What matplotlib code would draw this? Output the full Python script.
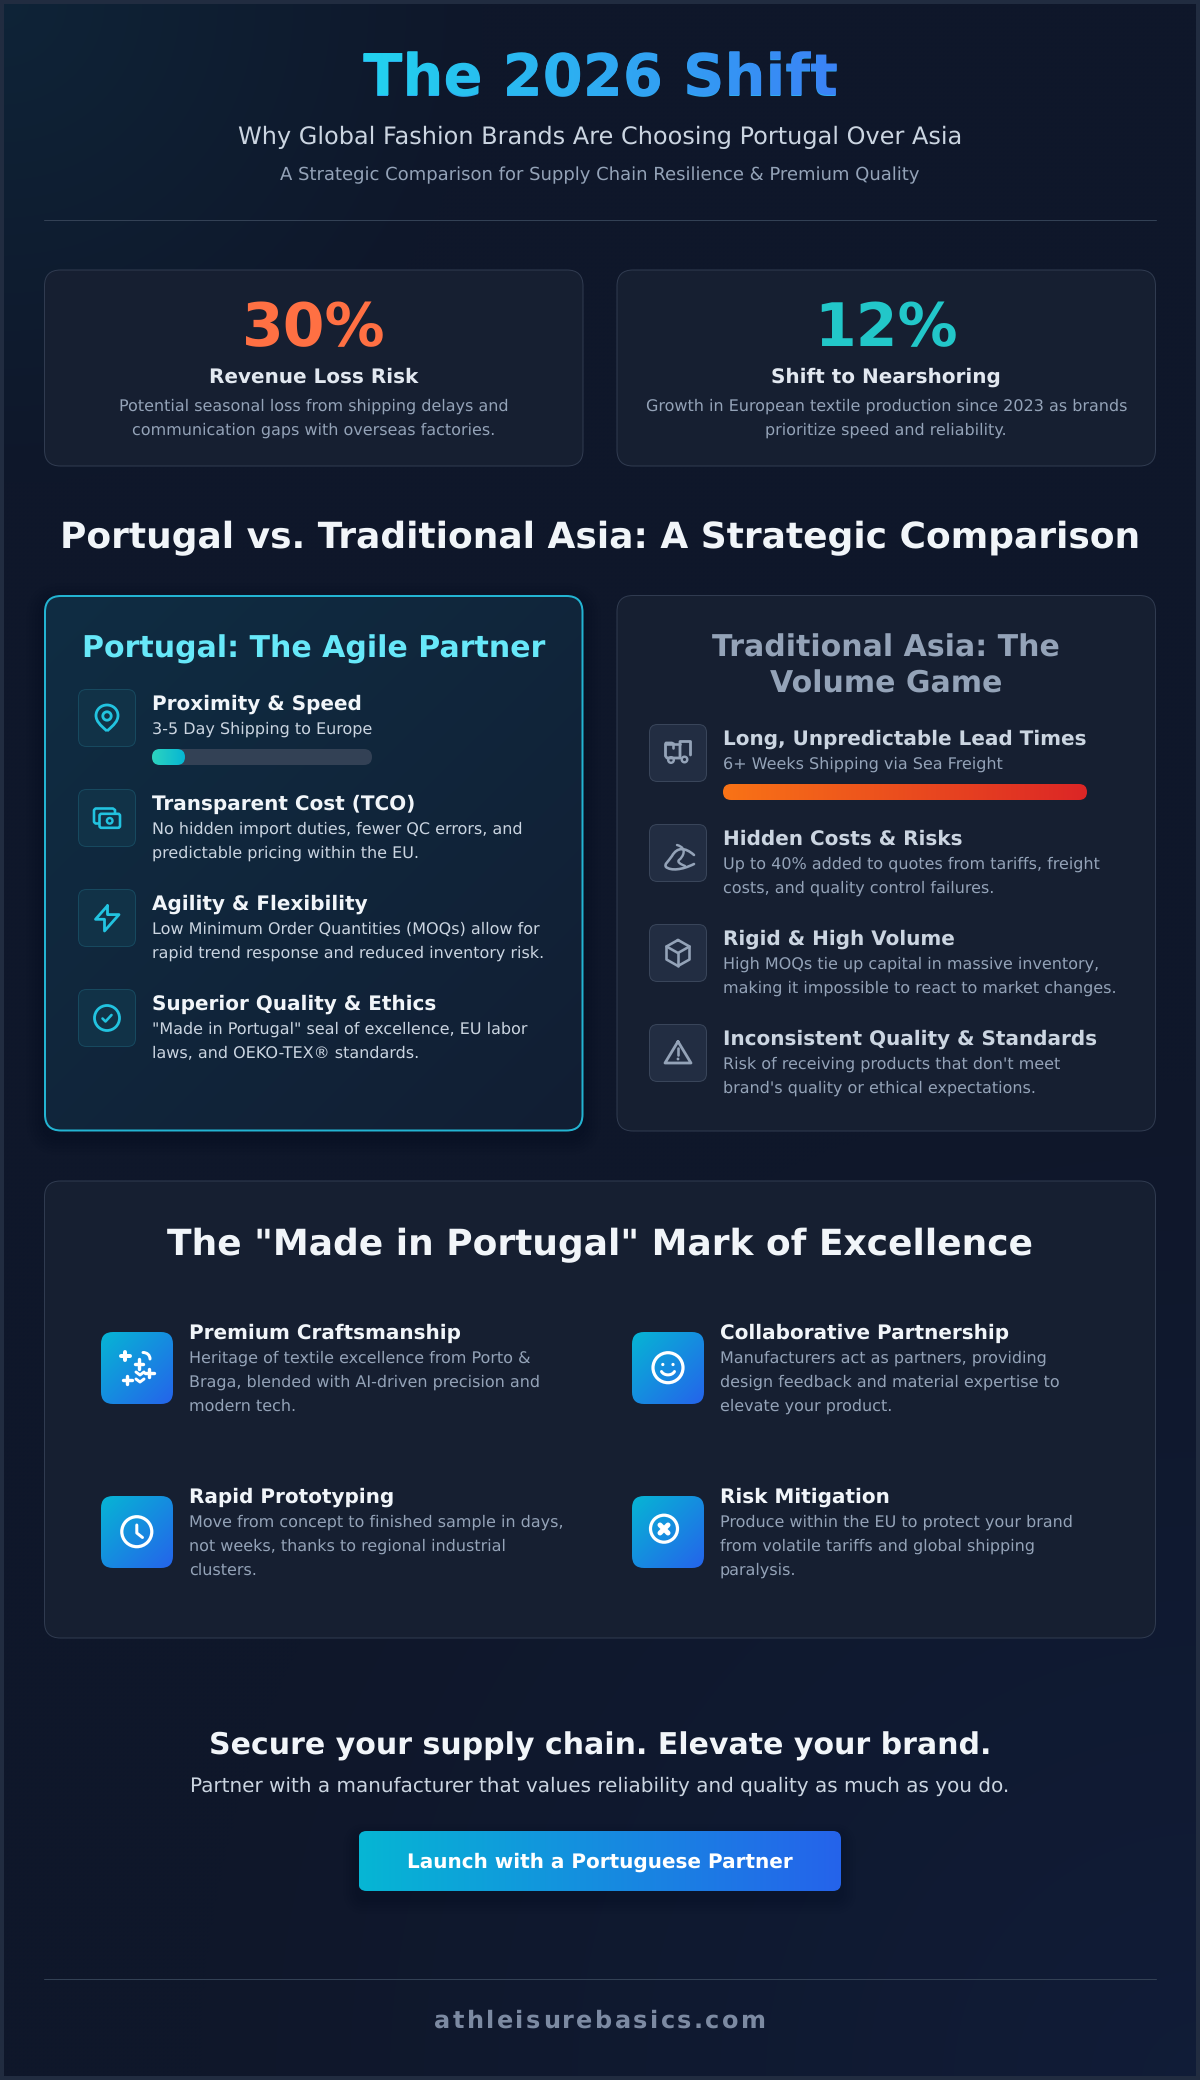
import numpy as np
import matplotlib
matplotlib.use("Agg")
import matplotlib.pyplot as plt
from matplotlib.colors import to_rgb
from matplotlib.font_manager import FontProperties
from matplotlib.patches import Circle, FancyBboxPatch, PathPatch, Rectangle
from matplotlib.path import Path
from matplotlib.textpath import TextPath
from matplotlib.transforms import Affine2D

W, H = 1200, 2080

# chart content
title = "The 2026 Shift"
subtitle = "Why Global Fashion Brands Are Choosing Portugal Over Asia"
tagline = "A Strategic Comparison for Supply Chain Resilience & Premium Quality"

stat_values = ["30%", "12%"]
stat_names = ["Revenue Loss Risk", "Shift to Nearshoring"]
stat_notes = [
    ["Potential seasonal loss from shipping delays and", "communication gaps with overseas factories."],
    ["Growth in European textile production since 2023 as brands", "prioritize speed and reliability."],
]

section_title = "Portugal vs. Traditional Asia: A Strategic Comparison"

portugal_title = ["Portugal: The Agile Partner"]
portugal_heads = ["Proximity & Speed", "Transparent Cost (TCO)", "Agility & Flexibility", "Superior Quality & Ethics"]
portugal_notes = [
    ["3-5 Day Shipping to Europe"],
    ["No hidden import duties, fewer QC errors, and", "predictable pricing within the EU."],
    ["Low Minimum Order Quantities (MOQs) allow for", "rapid trend response and reduced inventory risk."],
    ['"Made in Portugal" seal of excellence, EU labor', "laws, and OEKO-TEX® standards."],
]
portugal_bar = 0.15

asia_title = ["Traditional Asia: The", "Volume Game"]
asia_heads = ["Long, Unpredictable Lead Times", "Hidden Costs & Risks", "Rigid & High Volume", "Inconsistent Quality & Standards"]
asia_notes = [
    ["6+ Weeks Shipping via Sea Freight"],
    ["Up to 40% added to quotes from tariffs, freight", "costs, and quality control failures."],
    ["High MOQs tie up capital in massive inventory,", "making it impossible to react to market changes."],
    ["Risk of receiving products that don't meet", "brand's quality or ethical expectations."],
]
asia_bar = 1.0

mark_title = 'The "Made in Portugal" Mark of Excellence'
mark_heads = ["Premium Craftsmanship", "Collaborative Partnership", "Rapid Prototyping", "Risk Mitigation"]
mark_notes = [
    ["Heritage of textile excellence from Porto &", "Braga, blended with AI-driven precision and", "modern tech."],
    ["Manufacturers act as partners, providing", "design feedback and material expertise to", "elevate your product."],
    ["Move from concept to finished sample in days,", "not weeks, thanks to regional industrial", "clusters."],
    ["Produce within the EU to protect your brand", "from volatile tariffs and global shipping", "paralysis."],
]

cta_title = "Secure your supply chain. Elevate your brand."
cta_note = "Partner with a manufacturer that values reliability and quality as much as you do."
cta_button = "Launch with a Portuguese Partner"
footer = "athleisurebasics.com"

PANEL = "#161f31"
EDGE = "#303b50"
RULE = "#334155"
CYAN = "#22c3e0"
SLATE = "#94a3b8"
LIGHT = "#cbd5e1"
PALE = "#f1f5f9"

plt.rcParams["font.family"] = "DejaVu Sans"
plt.rcParams["text.hinting"] = "none"

fig = plt.figure(figsize=(W / 100, H / 100), dpi=100)
ax = fig.add_axes([0, 0, 1, 1])
ax.set_xlim(0, W)
ax.set_ylim(H, 0)
ax.axis("off")
ax.autoscale(False)


def label(x, y, s, px, color, weight="normal", ha="left"):
    return ax.text(x, y, s, fontsize=px * 0.72, color=color, fontweight=weight, ha=ha, va="baseline", zorder=6)


def rbox(x0, y0, x1, y1, r, fc="none", ec="none", lw=1.0, alpha=None, z=2):
    box = FancyBboxPatch((x0, y0), x1 - x0, y1 - y0, boxstyle=f"round,pad=0,rounding_size={r}",
                         fc=fc, ec=ec, lw=lw * 0.72, alpha=alpha, zorder=z)
    ax.add_patch(box)
    return box


def gradient(x0, y0, x1, y1, c0, c1, diagonal=False, clip=None, z=3):
    u, v = np.meshgrid(np.linspace(0, 1, 256), np.linspace(0, 1, 256))
    t = (u + v) / 2 if diagonal else u
    a, b = np.array(to_rgb(c0)), np.array(to_rgb(c1))
    rgb = a + (b - a) * t[..., None]
    im = ax.imshow(rgb, extent=(x0, x1, y1, y0), aspect="auto", interpolation="bilinear", zorder=z)
    if clip is not None:
        im.set_clip_path(clip)
    ax.set_xlim(0, W)
    ax.set_ylim(H, 0)
    return im


def shadow(x0, y0, x1, y1, r, spread=18, dy=6, strength=0.018):
    for d in range(spread, 0, -3):
        rbox(x0 - d, y0 - d + dy, x1 + d, y1 + d + dy, r + d, fc="black", alpha=strength, z=1.5)


def stroke(pts, color, lw, closed=False, z=5):
    pts = list(pts)
    if closed:
        pts.append(pts[0])
    xs, ys = zip(*pts)
    ax.plot(xs, ys, color=color, lw=lw * 0.72, solid_capstyle="round", solid_joinstyle="round", zorder=z)


def ring(cx, cy, r, color, lw, z=5):
    ax.add_patch(Circle((cx, cy), r, fc="none", ec=color, lw=lw * 0.72, zorder=z))


def dot(cx, cy, r, color, z=5):
    ax.add_patch(Circle((cx, cy), r, fc=color, ec="none", zorder=z))


def bez(pts, color, lw, z=5):
    codes = [Path.MOVETO] + [Path.CURVE4] * (len(pts) - 1)
    ax.add_patch(PathPatch(Path(pts, codes), fc="none", ec=color, lw=lw * 0.72, capstyle="round", joinstyle="round", zorder=z))


def spaced_text(cx, y, s, px, color, weight, spacing):
    # matplotlib has no letter-spacing, so each glyph goes down on its own
    fp = FontProperties(family="DejaVu Sans", weight=weight)
    bar = TextPath((0, 0), "|", size=px, prop=fp).get_extents().x1
    adv = [TextPath((0, 0), s[:i] + "|", size=px, prop=fp).get_extents().x1 - bar for i in range(len(s) + 1)]
    total = adv[-1] + spacing * (len(s) - 1)
    for i, ch in enumerate(s):
        label(cx - total / 2 + adv[i] + spacing * i, y, ch, px, color, weight)


# page background: dark navy with a teal glow top left and a blue glow bottom right
yy, xx = np.mgrid[0:H:4, 0:W:4]
base = np.array(to_rgb("#0f172a"))
glow_a = np.clip(1 - np.hypot(xx, yy) / 480, 0, 1)[..., None]
glow_b = np.clip(1 - np.hypot(xx - W, yy - H) / 1000, 0, 1)[..., None]
bg = base + glow_a * (np.array(to_rgb("#06b6d4")) - base) * 0.08
bg = bg + glow_b * (np.array(to_rgb("#2563eb")) - bg) * 0.07
ax.imshow(bg, extent=(0, W, H, 0), aspect="auto", interpolation="bilinear", zorder=0)
ax.set_xlim(0, W)
ax.set_ylim(H, 0)
ax.add_patch(Rectangle((2, 2), W - 4, H - 4, fc="none", ec="#212c40", lw=4 * 0.72, zorder=1))

# header, the title carries a left to right gradient clipped to its outline
fp_title = FontProperties(family="DejaVu Sans", weight="bold")
tp = TextPath((0, 0), title, size=57.6, prop=fp_title)
tw = tp.get_extents().x1
tx = 600 - tw / 2
label(tx, 95, title, 57.6, "#2eabf2", "bold")
clip_title = PathPatch(tp, transform=Affine2D().scale(1, -1).translate(tx, 95) + ax.transData, fc="none", ec="none")
ax.add_patch(clip_title)
gradient(tx, 40, tx + tw, 110, "#22d3ee", "#3b82f6", clip=clip_title, z=7)
label(600, 144, subtitle, 24, LIGHT, ha="center")
label(600, 180, tagline, 18, SLATE, ha="center")
stroke([(44, 220), (1156, 220)], RULE, 1, z=2)

# stat cards
stat_x = [(44.5, 583), (617, 1155.5)]
stat_colors = ["#ff7043", "#22c7c9"]
for i in range(2):
    x0, x1 = stat_x[i]
    cx = (x0 + x1) / 2
    rbox(x0, 270, x1, 466, 16, fc=PANEL, ec=EDGE, lw=1)
    label(cx, 346, stat_values[i], 60, stat_colors[i], "bold", ha="center")
    label(cx, 382.5, stat_names[i], 20, "#e2e8f0", "bold", ha="center")
    for j, line in enumerate(stat_notes[i]):
        label(cx, 411 + 24 * j, line, 16, SLATE, ha="center")

label(600, 548, section_title, 36, PALE, "bold", ha="center")

# comparison panels
shadow(44.5, 595.5, 583, 1131, 16, strength=0.01)
frame = rbox(44.5, 595.5, 583, 1131, 16, fc="#10243a", ec="none", z=2)
gradient(44.5, 595.5, 583, 1131, "#0f2d43", "#121e33", diagonal=True, clip=frame, z=2.5)
rbox(45, 596, 582.5, 1130.5, 16, fc="none", ec="#23b4d2", lw=2, z=4)
rbox(617, 595.5, 1155.5, 1131, 16, fc=PANEL, ec=EDGE, lw=1)

label(314, 658, portugal_title[0], 30, "#67e8f9", "bold", ha="center")
for j, line in enumerate(asia_title):
    label(886, 657 + 36 * j, line, 30, SLATE, "bold", ha="center")

for i in range(4):
    top = 689 + 100 * i
    rbox(78.5, top + 0.5, 135.5, top + 57.5, 8, fc="#113247", ec="#17495f", lw=1, z=3)
    label(152, top + 21, portugal_heads[i], 20, PALE, "bold")
    for j, line in enumerate(portugal_notes[i]):
        label(152, top + 45 + 24 * j, line, 16, LIGHT)

    top = 724 + 100 * i
    rbox(649.5, top + 0.5, 706.5, top + 57.5, 8, fc="#222d42", ec="#39455a", lw=1, z=3)
    label(723, top + 21, asia_heads[i], 20, LIGHT, "bold")
    for j, line in enumerate(asia_notes[i]):
        label(723, top + 45 + 24 * j, line, 16, SLATE)

# the two lead time bars
rbox(152, 749, 372, 765, 8, fc="#334155", z=3)
end = 152 + (372 - 152) * portugal_bar
clip = rbox(152, 749, end, 765, 8, z=3)
gradient(152, 749, end, 765, "#2dd4bf", "#06b6d4", clip=clip, z=4)
end = 723 + (1087 - 723) * asia_bar
clip = rbox(723, 784, end, 800, 8, z=3)
gradient(723, 784, end, 800, "#f97316", "#dc2626", clip=clip, z=4)

# portugal icons
c = CYAN
ring(107, 716, 4.2, c, 2.8)
ax.add_patch(PathPatch(Path(
    [(107, 731), (100, 725), (96, 721), (96, 715.5), (96, 709.5), (101, 705), (107, 705),
     (113, 705), (118, 709.5), (118, 715.5), (118, 721), (114, 725), (107, 731)],
    [Path.MOVETO] + [Path.CURVE4] * 12), fc="none", ec=c, lw=2.8 * 0.72, zorder=5))
stroke([(99, 823.5), (95.5, 823.5), (94, 822), (94, 810), (95.5, 808.5), (113, 808.5), (115, 810), (115, 813.5)], c, 2.6)
rbox(99.5, 813.8, 120, 827.8, 2, ec=c, lw=2.6, z=5)
ring(109.7, 820.8, 2.8, c, 2.4)
stroke([(107.5, 905.7), (95.5, 919.3), (104.5, 919.3), (104.5, 931), (119, 914.6), (107.5, 914.6)], c, 2.8, closed=True)
ring(107, 1018, 12.5, c, 2.8)
stroke([(102.5, 1018.5), (105.5, 1021.5), (111.5, 1015)], c, 2.6)

# asia icons
c = SLATE
stroke([(672, 743), (666, 743), (665.5, 744), (665.5, 756), (667, 758), (680, 758), (680, 741.5), (690.5, 741.5), (690.5, 755)], c, 2.8)
stroke([(672.5, 743), (672.5, 748)], c, 2.6)
stroke([(666, 743.5), (680, 743.5)], c, 2.6)
ring(671, 760, 2.8, c, 2.4)
ring(684.5, 759.5, 2.8, c, 2.4)
bez([(694, 855), (685, 847), (677, 847), (672, 856), (668, 862), (664, 864), (666, 867),
     (671, 871), (682, 870), (694, 864)], c, 2.6)
bez([(677, 845), (688, 848), (683, 857), (679, 860), (677, 862), (680, 864), (685, 866)], c, 2.4)
cube_top, cube_mid, cube_low = (678, 940), (678, 953), (678, 966)
stroke([cube_top, (689.5, 946.5), (689.5, 959.5), cube_low, (666.5, 959.5), (666.5, 946.5)], c, 2.6, closed=True)
stroke([(666.5, 946.5), cube_mid, (689.5, 946.5)], c, 2.6)
stroke([cube_mid, cube_low], c, 2.6)
stroke([(678, 1041.5), (691, 1063), (665, 1063)], c, 2.8, closed=True)
stroke([(678, 1048), (678, 1055)], c, 2.6)
dot(678, 1059, 1.4, c)

# mark of excellence panel
rbox(44.5, 1181, 1155.5, 1638, 16, fc=PANEL, ec=EDGE, lw=1)
label(600, 1255, mark_title, 36, PALE, "bold", ha="center")

mark_icon_x = [101, 632, 101, 632]
mark_icon_y = [1332, 1332, 1496, 1496]
for i in range(4):
    ix, iy = mark_icon_x[i], mark_icon_y[i]
    shadow(ix, iy, ix + 72, iy + 72, 12, spread=12, dy=4, strength=0.012)
    clip = rbox(ix, iy, ix + 72, iy + 72, 12, z=3)
    gradient(ix, iy, ix + 72, iy + 72, "#06b6d4", "#2563eb", diagonal=True, clip=clip, z=3)
    tx_i = ix + 88
    label(tx_i, iy + 7, mark_heads[i], 20, PALE, "bold")
    for j, line in enumerate(mark_notes[i]):
        label(tx_i, iy + 31 + 24 * j, line, 16, SLATE)

c = "white"
# craft icon, blobbier strokes like the reference
stroke([(121, 1355.5), (129.5, 1355.5)], c, 4)
stroke([(125, 1351.5), (125, 1360)], c, 4)
bez([(143, 1352.5), (147, 1352.5), (150, 1355), (150, 1359)], c, 3)
stroke([(123, 1379.5), (131.5, 1379.5)], c, 3.4)
stroke([(127, 1375.5), (127, 1384)], c, 3.4)
stroke([(145, 1372.7), (153.5, 1372.7)], c, 3.4)
stroke([(149, 1368.5), (149, 1377)], c, 3.4)
stroke([(135, 1364), (143, 1364)], c, 3.4)
stroke([(139, 1359), (139, 1369)], c, 3.4)
stroke([(136, 1372), (140, 1375), (144, 1372)], c, 3)
stroke([(136, 1379), (140, 1382), (144, 1379)], c, 3)
# clock
ring(136.8, 1531.7, 15, c, 3.2)
stroke([(136.8, 1525), (136.8, 1533), (142.5, 1537.5)], c, 3)
# smile
ring(668, 1367.7, 15, c, 3.2)
dot(662.8, 1364.5, 1.6, c)
dot(673, 1364.5, 1.6, c)
bez([(661.5, 1371.5), (664, 1376), (672, 1376), (674.5, 1371.5)], c, 3)
# risk cross
ring(664, 1528.7, 13.5, c, 3.2)
stroke([(660, 1525), (668, 1533)], c, 5)
stroke([(668, 1525), (660, 1533)], c, 5)

# call to action
label(600, 1755, cta_title, 30, PALE, "bold", ha="center")
label(600, 1792, cta_note, 20, LIGHT, ha="center")
shadow(358.5, 1831, 841, 1891, 8, spread=15, dy=8, strength=0.015)
clip = rbox(358.5, 1831, 841, 1891, 8, z=3)
gradient(358.5, 1831, 841, 1891, "#06b6d4", "#2563eb", clip=clip, z=3)
label(600, 1868, cta_button, 20, "white", "bold", ha="center")

# footer
stroke([(44, 1979), (1156, 1979)], RULE, 1, z=2)
spaced_text(600, 2028, footer, 24, "#7c8aa2", "bold", 2.4)

fig.savefig("out.png", dpi=100)
